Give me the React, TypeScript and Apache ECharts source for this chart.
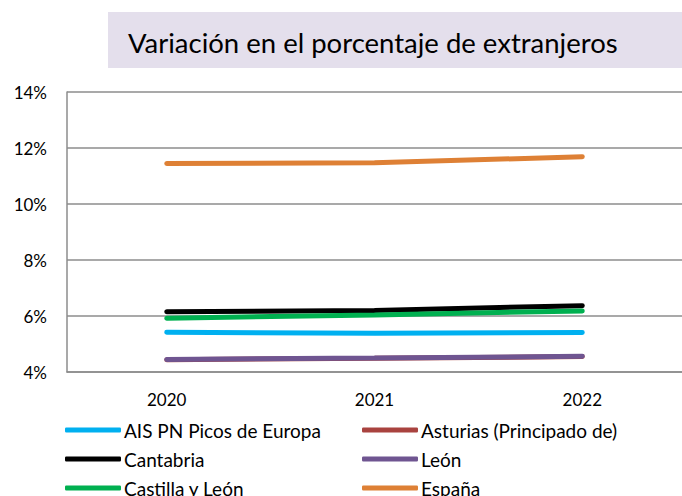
import React, { useEffect, useRef } from "react";
import * as echarts from "echarts";

const years = [2020, 2021, 2022];
const seriesNames = [
  "AIS PN Picos de Europa",
  "Asturias (Principado de)",
  "Cantabria",
  "León",
  "Castilla y León",
  "España",
];
const aisValues = [5.42, 5.38, 5.41];
const asturiasValues = [4.44, 4.49, 4.55];
const cantabriaValues = [6.15, 6.2, 6.37];
const leonValues = [4.45, 4.5, 4.56];
const castillaValues = [5.92, 6.04, 6.18];
const espanaValues = [11.45, 11.47, 11.69];
const yTicks = [4, 6, 8, 10, 12, 14];
const title = "Variación en el porcentaje de extranjeros";

const colors = ["#00B0F0", "#A9433F", "#000000", "#6F5591", "#00B050", "#DE8035"];
const allValues = [aisValues, asturiasValues, cantabriaValues, leonValues, castillaValues, espanaValues];

// legend layout (row-major, 2 columns)
const legendPos = [
  { left: 65, top: 420 },
  { left: 362, top: 420 },
  { left: 65, top: 449 },
  { left: 362, top: 449 },
  { left: 65, top: 478 },
  { left: 362, top: 478 },
];

export default function App() {
  const ref = useRef<HTMLDivElement>(null);
  useEffect(() => {
    document.body.style.margin = "0";
    const chart = echarts.init(ref.current!, null, { renderer: "svg" });
    const font = "Lato, 'Liberation Sans', sans-serif";
    chart.setOption({
      animation: false,
      textStyle: { fontFamily: font },
      graphic: [
        {
          type: "rect",
          shape: { x: 108, y: 12, width: 580, height: 56 },
          style: { fill: "#E4DFEC" },
          z: 0,
        },
        {
          type: "text",
          x: 128,
          y: 42,
          style: {
            text: title,
            fontFamily: font,
            fontSize: 27.5,
            fill: "#000",
            verticalAlign: "middle",
          },
        },
      ],
      grid: { left: 67, right: 0, top: 92, bottom: 124 },
      xAxis: {
        type: "value",
        min: 2019.52,
        max: 2022.48,
        splitLine: { show: false },
        axisTick: { show: false },
        axisLine: { show: true, lineStyle: { color: "#8C8C8C", width: 1.5 } },
        axisLabel: {
          customValues: years,
          formatter: (v: number) => String(v),
          fontSize: 17,
          color: "#000",
          margin: 19,
          fontFamily: font,
        },
      },
      yAxis: {
        type: "value",
        min: yTicks[0],
        max: yTicks[yTicks.length - 1],
        interval: 2,
        axisLine: { show: true, lineStyle: { color: "#8C8C8C", width: 1.5 } },
        axisTick: { show: false },
        splitLine: { lineStyle: { color: "#8C8C8C", width: 1.5 } },
        axisLabel: {
          formatter: (v: number) => v + "%",
          fontSize: 17,
          color: "#000",
          margin: 20,
          fontFamily: font,
        },
      },
      legend: seriesNames.map((n, i) => ({
        data: [n],
        left: legendPos[i].left,
        top: legendPos[i].top,
        padding: 0,
        icon: "roundRect",
        itemWidth: 56,
        itemHeight: 5,
        textStyle: { fontSize: 19, color: "#000", fontFamily: font, lineHeight: 20, padding: [0, 0, 0, -2] },
      })),
      series: seriesNames.map((n, i) => ({
        name: n,
        type: "line",
        data: years.map((y, j) => [y, allValues[i][j]]),
        showSymbol: false,
        symbol: "none",
        lineStyle: { color: colors[i], width: 5, cap: "round" },
        itemStyle: { color: colors[i] },
      })),
    });
    return () => chart.dispose();
  }, []);
  return <div ref={ref} style={{ width: 682, height: 496 }} />;
}
